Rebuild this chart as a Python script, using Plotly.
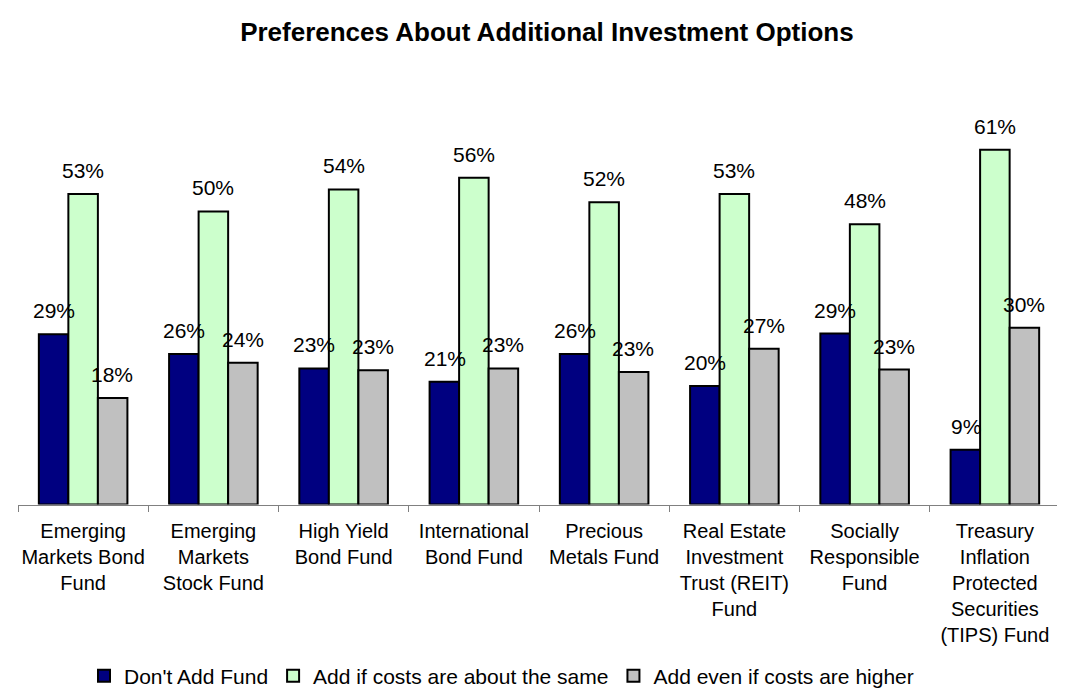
import plotly.graph_objects as go

categories = [
    "Emerging<br>Markets Bond<br>Fund",
    "Emerging<br>Markets<br>Stock Fund",
    "High Yield<br>Bond Fund",
    "International<br>Bond Fund",
    "Precious<br>Metals Fund",
    "Real Estate<br>Investment<br>Trust (REIT)<br>Fund",
    "Socially<br>Responsible<br>Fund",
    "Treasury<br>Inflation<br>Protected<br>Securities<br>(TIPS) Fund",
]
dont_add = [29.3, 25.9, 23.4, 21.1, 25.9, 20.4, 29.4, 9.4]
add_same = [53.4, 50.4, 54.2, 56.2, 52.0, 53.4, 48.2, 61.0]
add_higher = [18.3, 24.4, 23.1, 23.4, 22.8, 26.8, 23.2, 30.4]

series = [
    ("Don't Add Fund", dont_add, "#000080"),
    ("Add if costs are about the same", add_same, "#CCFFCC"),
    ("Add even if costs are higher", add_higher, "#C0C0C0"),
]

FONT = "Liberation Sans, Arial, sans-serif"
fig = go.Figure()
for name, vals, col in series:
    fig.add_trace(go.Bar(
        x=categories, y=vals, name=name,
        marker=dict(color=col, line=dict(color="black", width=2)),
        hoverinfo="skip",
    ))

shifts = [-29.2, 0, 29.2]
annotations = []
for (name, vals, col), sh in zip(series, shifts):
    for c, v in zip(categories, vals):
        annotations.append(dict(
            x=c, y=v, xref="x", yref="y", text=f"{v:.0f}%",
            showarrow=False, xshift=sh, yshift=10, yanchor="bottom",
            font=dict(family=FONT, size=21, color="black"),
        ))

fig.update_layout(
    width=1065, height=690,
    paper_bgcolor="white", plot_bgcolor="white",
    margin=dict(l=10, r=13, t=100, b=187),
    barmode="group", bargap=0.32, bargroupgap=0,
    font=dict(family=FONT, size=20, color="black"),
    title=dict(
        text="<b>Preferences About Additional Investment Options</b>",
        x=0.506, xanchor="center", y=1 - 24 / 690, yanchor="middle",
        font=dict(family=FONT, size=26, color="black"),
    ),
    legend=dict(
        orientation="h", x=0.464, xanchor="center",
        yref="container", y=1 - 668 / 690, yanchor="middle",
        font=dict(family=FONT, size=21, color="black"),
        traceorder="normal",
    ),
    annotations=annotations,
    showlegend=True,
)
fig.update_xaxes(
    showline=True, linecolor="#808080", linewidth=1,
    ticks="outside", tickson="boundaries", ticklen=6, tickcolor="#808080",
    showgrid=False, tickangle=0, ticklabelstandoff=8,
    tickfont=dict(family=FONT, size=20, color="black"),
)
fig.update_yaxes(
    range=[0, 68.2], showticklabels=False, showgrid=False,
    zeroline=False, showline=False, ticks="",
)

fig.write_html("out.html")
